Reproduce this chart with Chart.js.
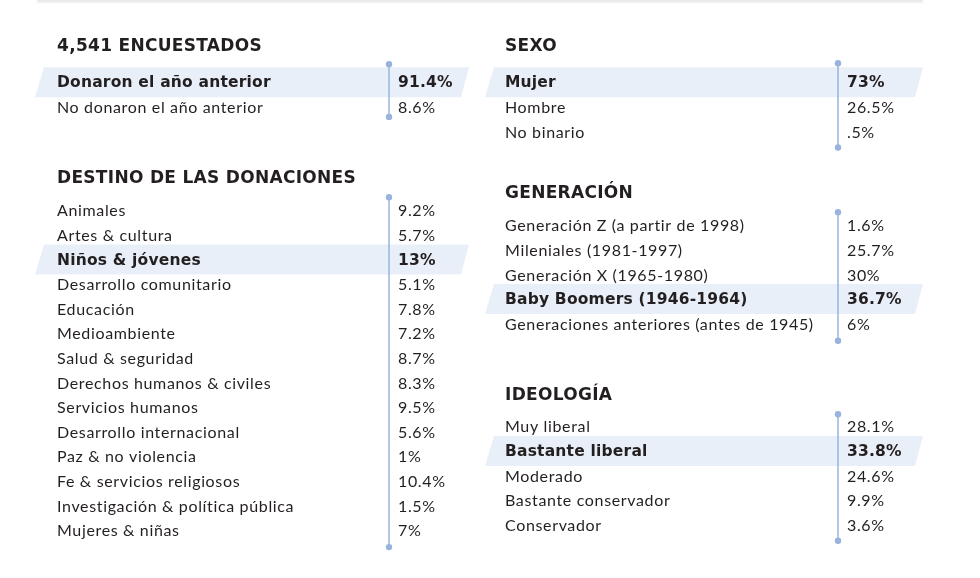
<!DOCTYPE html>
<html>
<head>
<meta charset="utf-8">
<script src="https://cdn.jsdelivr.net/npm/chart.js@4.4.0/dist/chart.umd.min.js"></script>
<style>
  body { margin: 0; background: #fff; width: 980px; height: 578px; overflow: hidden; position: relative; }
  .topline { position: absolute; left: 37px; top: 0; width: 886px; height: 2px; background: #ebebeb; box-shadow: 0 1px 2px rgba(0,0,0,0.07); }
  .box { position: absolute; }
</style>
</head>
<body>
<div class="topline"></div>
<div class="box" id="b1"><canvas id="c1"></canvas></div>
<div class="box" id="b2"><canvas id="c2"></canvas></div>
<div class="box" id="b3"><canvas id="c3"></canvas></div>
<div class="box" id="b4"><canvas id="c4"></canvas></div>
<div class="box" id="b5"><canvas id="c5"></canvas></div>

<script>
// --- data ---
const encuestadosTitle = '4,541 ENCUESTADOS';
const encuestadosLabels = ['Donaron el año anterior', 'No donaron el año anterior'];
const encuestadosValues = [91.4, 8.6];

const sexoTitle = 'SEXO';
const sexoLabels = ['Mujer', 'Hombre', 'No binario'];
const sexoValues = [73, 26.5, 0.5];

const destinoTitle = 'DESTINO DE LAS DONACIONES';
const destinoLabels = ['Animales', 'Artes & cultura', 'Niños & jóvenes', 'Desarrollo comunitario',
  'Educación', 'Medioambiente', 'Salud & seguridad', 'Derechos humanos & civiles',
  'Servicios humanos', 'Desarrollo internacional', 'Paz & no violencia',
  'Fe & servicios religiosos', 'Investigación & política pública', 'Mujeres & niñas'];
const destinoValues = [9.2, 5.7, 13, 5.1, 7.8, 7.2, 8.7, 8.3, 9.5, 5.6, 1, 10.4, 1.5, 7];

const generacionTitle = 'GENERACIÓN';
const generacionLabels = ['Generación Z (a partir de 1998)', 'Mileniales (1981-1997)',
  'Generación X (1965-1980)', 'Baby Boomers (1946-1964)', 'Generaciones anteriores (antes de 1945)'];
const generacionValues = [1.6, 25.7, 30, 36.7, 6];

const ideologiaTitle = 'IDEOLOGÍA';
const ideologiaLabels = ['Muy liberal', 'Bastante liberal', 'Moderado', 'Bastante conservador', 'Conservador'];
const ideologiaValues = [28.1, 33.8, 24.6, 9.9, 3.6];

const TEXT = '#231f20';
const BAND = '#e9eff8';
const RULE = '#98b4dc';
const FONT = 'Lato, "Open Sans", sans-serif';
const BOLD_FONT = '"DejaVu Sans", Lato, sans-serif';
const ROW_H = 24.6;

function fmt(v) {
  let s = String(v);
  if (s.startsWith('0.')) s = s.slice(1);
  return s + '%';
}

// draws the list: band, labels, rule, values
const listPlugin = {
  id: 'list',
  afterDatasetsDraw(chart, args, o) {
    const ctx = chart.ctx;
    const y = chart.scales.y;
    const labels = chart.data.labels;
    const values = chart.data.datasets[0].data;
    ctx.save();

    // title
    ctx.fillStyle = TEXT;
    ctx.font = '700 17px ' + BOLD_FONT;
    ctx.letterSpacing = '0.3px';
    ctx.textBaseline = 'middle';
    ctx.textAlign = 'left';
    ctx.fillText(o.title, o.textX, y.getPixelForValue(0) - o.titleGap);

    // highlight band (parallelogram)
    const hy = y.getPixelForValue(o.highlight);
    ctx.fillStyle = BAND;
    ctx.beginPath();
    ctx.moveTo(o.bandL + 9, hy - 15);
    ctx.lineTo(o.bandR + 8, hy - 15);
    ctx.lineTo(o.bandR, hy + 15);
    ctx.lineTo(o.bandL, hy + 15);
    ctx.closePath();
    ctx.fill();

    // vertical rule with end dots
    const top = y.getPixelForValue(0) - o.ruleUp;
    const bot = y.getPixelForValue(labels.length - 1) + o.ruleDown;
    ctx.strokeStyle = RULE;
    ctx.lineWidth = 1.5;
    ctx.beginPath();
    ctx.moveTo(o.ruleX, top);
    ctx.lineTo(o.ruleX, bot);
    ctx.stroke();
    ctx.fillStyle = RULE;
    [top, bot].forEach(py => {
      ctx.beginPath();
      ctx.arc(o.ruleX, py, 3.2, 0, Math.PI * 2);
      ctx.fill();
    });

    // rows
    labels.forEach((lab, i) => {
      const py = y.getPixelForValue(i);
      const bold = i === o.highlight;
      ctx.fillStyle = TEXT;
      if (bold) {
        ctx.font = '700 15.5px ' + BOLD_FONT;
        ctx.letterSpacing = '0.2px';
      } else {
        ctx.font = '400 16px ' + FONT;
        ctx.letterSpacing = '0.65px';
      }
      ctx.fillText(lab, o.textX, py + 1);
      ctx.fillText(fmt(values[i]), o.valueX, py + 1);
    });
    ctx.restore();
  }
};

function makeList(canvasId, boxId, col, firstRowY, title, labels, values, opts) {
  const boxLeft = col === 0 ? 0 : 480;
  const boxTop = firstRowY - ROW_H / 2 - 50;
  const height = 50 + labels.length * ROW_H + 30;
  const box = document.getElementById(boxId);
  box.style.left = boxLeft + 'px';
  box.style.top = boxTop + 'px';
  box.style.width = '480px';
  box.style.height = height + 'px';

  const local = x => x - boxLeft;
  new Chart(document.getElementById(canvasId), {
    type: 'bar',
    data: {
      labels: labels,
      datasets: [{ data: values, backgroundColor: 'rgba(0,0,0,0)', borderWidth: 0 }]
    },
    options: {
      indexAxis: 'y',
      responsive: true,
      maintainAspectRatio: false,
      animation: false,
      events: [],
      layout: { padding: { top: 50, bottom: 30, left: 0, right: 0 } },
      scales: {
        x: { display: false, min: 0, max: 100 },
        y: { display: false, offset: true }
      },
      plugins: {
        legend: { display: false },
        tooltip: { enabled: false },
        list: {
          title: title,
          titleGap: opts.titleGap,
          highlight: opts.highlight,
          textX: local(col === 0 ? 57 : 505),
          valueX: local(col === 0 ? 398 : 847),
          ruleX: local(col === 0 ? 389 : 838),
          bandL: local(col === 0 ? 35 : 485),
          bandR: local(col === 0 ? 461 : 915),
          ruleUp: opts.ruleUp,
          ruleDown: opts.ruleDown
        }
      }
    },
    plugins: [listPlugin]
  });
}

makeList('c1', 'b1', 0, 82, encuestadosTitle, encuestadosLabels, encuestadosValues,
  { highlight: 0, titleGap: 36, ruleUp: 18, ruleDown: 10 });
makeList('c2', 'b2', 1, 82, sexoTitle, sexoLabels, sexoValues,
  { highlight: 0, titleGap: 36, ruleUp: 19, ruleDown: 16 });
makeList('c3', 'b3', 0, 210, destinoTitle, destinoLabels, destinoValues,
  { highlight: 2, titleGap: 32, ruleUp: 13, ruleDown: 17 });
makeList('c4', 'b4', 1, 225, generacionTitle, generacionLabels, generacionValues,
  { highlight: 3, titleGap: 32, ruleUp: 13, ruleDown: 17 });
makeList('c5', 'b5', 1, 426, ideologiaTitle, ideologiaLabels, ideologiaValues,
  { highlight: 1, titleGap: 31, ruleUp: 12, ruleDown: 16 });
</script>
</body>
</html>
